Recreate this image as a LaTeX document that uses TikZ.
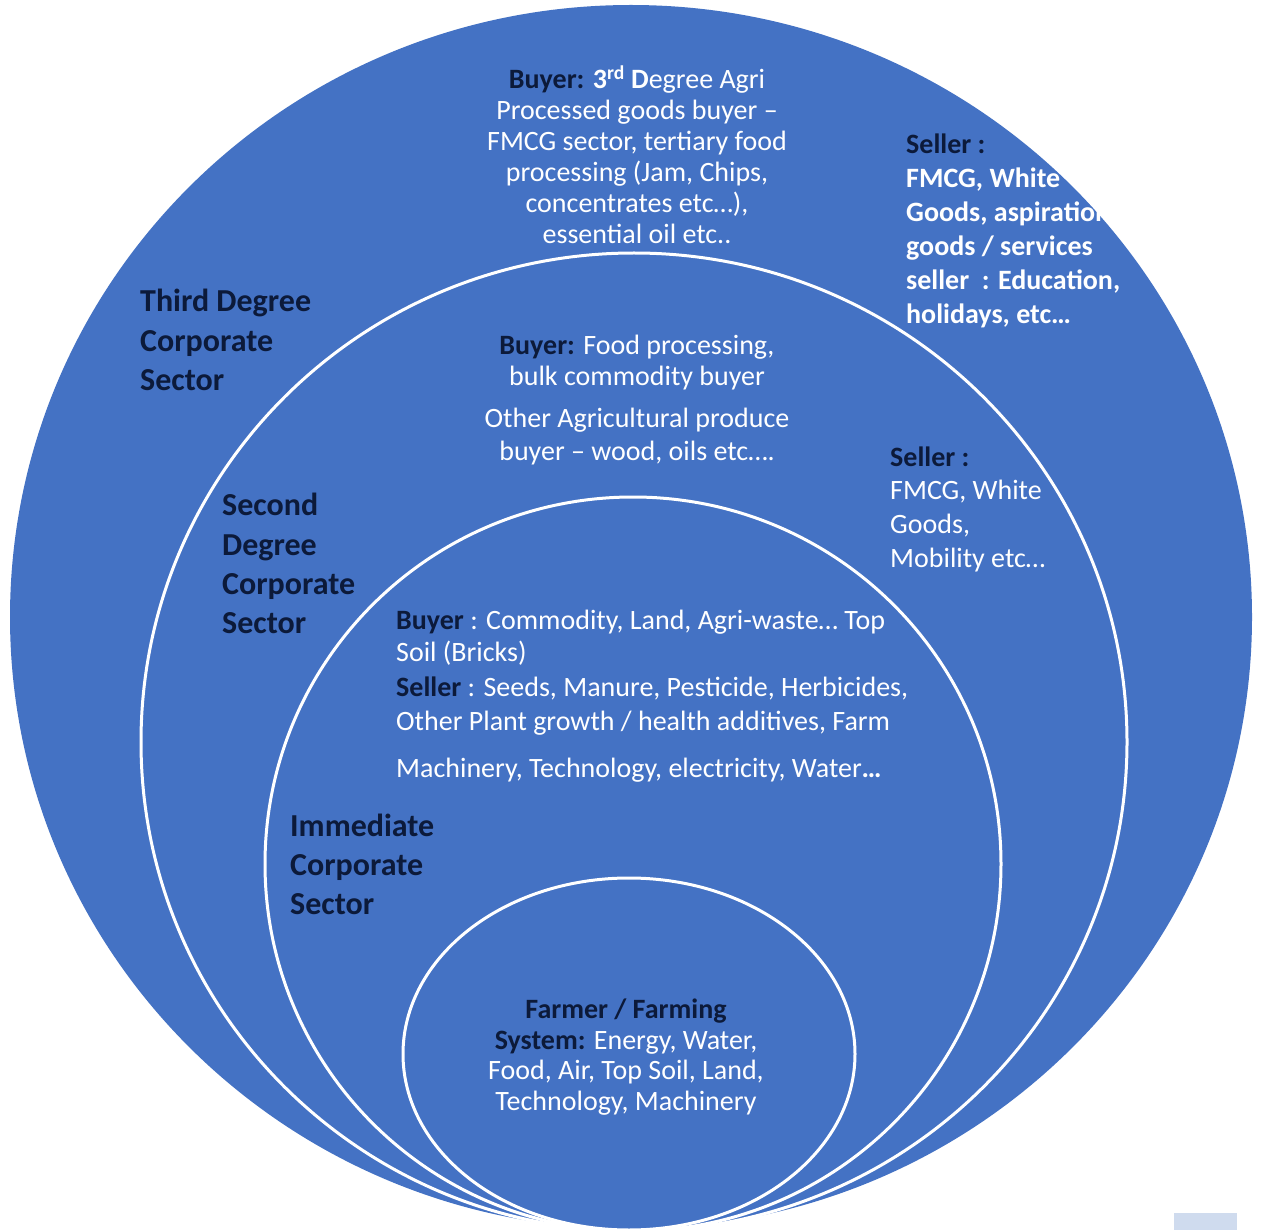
\documentclass[tikz,border=0pt]{standalone}
\usepackage{fontspec}
\setmainfont{Carlito}
\definecolor{ringblue}{HTML}{4472C4}
\definecolor{darktxt}{HTML}{0C1A3A}
\definecolor{paleblue}{HTML}{CFDBEE}
\tikzset{
  lbl/.style={font=\fontsize{32}{39}\selectfont\bfseries, text=darktxt, inner sep=0pt, anchor=base west},
  wtc/.style={font=\fontsize{28}{31}\selectfont, text=white, inner sep=0pt, anchor=base},
  wtl/.style={font=\fontsize{28}{31}\selectfont, text=white, inner sep=0pt, anchor=base west},
  wbl/.style={font=\fontsize{28}{31}\selectfont\bfseries, text=white, inner sep=0pt, anchor=base west},
  ring/.style={draw=white, line width=3pt},
}
\newcommand{\dk}[1]{\textcolor{darktxt}{\bfseries #1}}
\begin{document}
\begin{tikzpicture}[x=1pt,y=-1pt]
\useasboundingbox (0,0) rectangle (1261,1230);
\clip (0,0) rectangle (1261,1230);
\fill[white] (0,0) rectangle (1261,1230);
% circles
\fill[ringblue] (631,617) ellipse [x radius=621pt, y radius=612pt];
\draw[ring] (634,742) ellipse [x radius=493pt, y radius=489pt];
\draw[ring] (633,864) ellipse [x radius=368pt, y radius=367pt];
\draw[ring] (629,1054) ellipse [x radius=226pt, y radius=176pt];
\fill[paleblue] (1174,1213) rectangle (1237,1230);

% top block
\node[wtc] (a1) at (637,89) {\dk{Buyer:} {\bfseries 3\textsuperscript{rd} D}egree Agri};
\node[wtc] (a2) at (637,120) {Processed goods buyer –};
\node[wtc] (a3) at (637,151) {FMCG sector, tertiary food};
\node[wtc] (a4) at (637,182) {processing (Jam, Chips,};
\node[wtc] (a5) at (637,213) {concentrates etc…),};
\node[wtc] (a6) at (637,244) {essential oil etc..};

% top right seller
\node[wbl] (b1) at (906,154) {\dk{Seller :}};
\node[wbl] (b2) at (906,188) {FMCG, White};
\node[wbl] (b3) at (906,222) {Goods, aspiration};
\node[wbl] (b4) at (906,256) {goods / services};
\node[wbl] (b5) at (906,290) {seller\ \ : Education,};
\node[wbl] (b6) at (906,324) {holidays, etc…};

% third degree label
\node[lbl] (c1) at (140,312) {Third Degree};
\node[lbl] (c2) at (140,352) {Corporate};
\node[lbl] (c3) at (140,391) {Sector};

% second degree centre block
\node[wtc] (d1) at (637,355) {\dk{Buyer:} Food processing,};
\node[wtc] (d2) at (637,386) {bulk commodity buyer};
\node[wtc] (d3) at (637,428) {Other Agricultural produce};
\node[wtc] (d4) at (637,460) {buyer – wood, oils etc….};

% second degree right seller
\node[wtl] (e1) at (890,466) {\dk{Seller :}};
\node[wtl] (e2) at (890,499) {FMCG, White};
\node[wtl] (e3) at (890,533) {Goods,};
\node[wtl] (e4) at (890,567) {Mobility etc…};

% second degree label
\node[lbl] (f1) at (222,515) {Second};
\node[lbl] (f2) at (222,555) {Degree};
\node[lbl] (f3) at (222,594) {Corporate};
\node[lbl] (f4) at (222,633) {Sector};

% immediate block
\node[wtl] (g1) at (396,629) {\dk{Buyer} : Commodity, Land, Agri-waste… Top};
\node[wtl] (g2) at (396,661) {Soil (Bricks)};
\node[wtl] (g3) at (396,696) {\dk{Seller} : Seeds, Manure, Pesticide, Herbicides,};
\node[wtl] (g4) at (396,730) {Other Plant growth / health additives, Farm};
\node[wtl] (g5) at (396,777) {Machinery, Technology, electricity, Water{\bfseries …}};

% immediate label
\node[lbl] (h1) at (290,836) {Immediate};
\node[lbl] (h2) at (290,875) {Corporate};
\node[lbl] (h3) at (290,914) {Sector};

% farmer block
\node[wtc] (k1) at (626,1018) {\dk{Farmer / Farming}};
\node[wtc] (k2) at (626,1049) {\dk{System:} Energy, Water,};
\node[wtc] (k3) at (626,1079) {Food, Air, Top Soil, Land,};
\node[wtc] (k4) at (626,1110) {Technology, Machinery};
\end{tikzpicture}
\end{document}
